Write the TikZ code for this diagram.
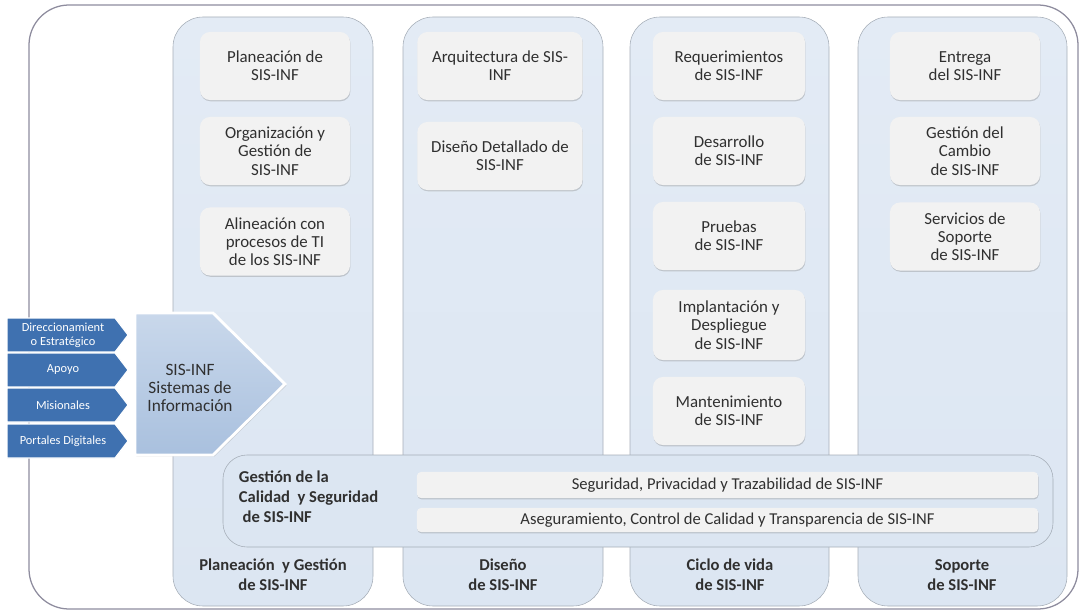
\documentclass[tikz,border=0pt]{standalone}
\usepackage{fontspec}
\setmainfont{Carlito}
\usetikzlibrary{shadows}

\definecolor{colfill}{HTML}{DCE6F2}
\definecolor{coltop}{HTML}{E3EBF5}
\definecolor{colline}{HTML}{A6AEB8}
\definecolor{boxfill}{HTML}{F2F2F2}
\definecolor{tagblue}{HTML}{3F71B0}
\definecolor{arrowtop}{HTML}{C9D8EB}
\definecolor{arrowbot}{HTML}{A9C0DE}
\definecolor{framegray}{HTML}{8E8C9E}
\definecolor{txt}{HTML}{303030}

\tikzset{
  column/.style = {draw = colline, top color = coltop, bottom color = colfill, rounded corners = 0.75cm},
  itembox/.style = {fill = boxfill, rounded corners = 0.25cm, minimum height = 1.7cm, align = center,
                    text = txt, font = \fontsize{12}{13}\selectfont,
                    drop shadow = {shadow xshift = 0.3pt, shadow yshift = -0.9pt, opacity = 0.35, fill = gray}},
  bar/.style = {fill = boxfill, rounded corners = 0.1cm, minimum width = 15.525cm, text = txt,
                font = \fontsize{11.8}{13}\selectfont,
                drop shadow = {shadow xshift = 0.3pt, shadow yshift = -0.9pt, opacity = 0.35, fill = gray}},
  collabel/.style = {align = center, text = txt, font = \fontsize{11.8}{14.2}\selectfont\bfseries},
  tag/.style = {fill = tagblue, draw = white, line width = 0.8pt},
  tagtext/.style = {align = center, text = white, font = \fontsize{8.8}{10}\selectfont}
}

\begin{document}
\begin{tikzpicture}[x = 0.025cm, y = -0.025cm]
    \useasboundingbox (0, 0) rectangle (1081, 611);

    % outer frame
    \draw[framegray, line width = 0.9pt, rounded corners = 1cm] (29, 5) rectangle (1078, 609);

    % columns
    \draw[column] (173, 17) rectangle (373, 606);
    \draw[column] (403, 17) rectangle (603, 606);
    \draw[column] (630, 17) rectangle (829, 606);
    \draw[column] (858, 17) rectangle (1067, 606);

    % planeacion y gestion
    \node[itembox, minimum width = 3.75cm] (plan) at (275, 66) {Planeación de\\SIS-INF};
    \node[itembox, minimum width = 3.75cm] (orga) at (275, 151) {Organización y\\Gestión de\\SIS-INF};
    \node[itembox, minimum width = 3.75cm] (alin) at (275, 241.5) {Alineación con\\procesos de TI\\de los SIS-INF};

    % diseno
    \node[itembox, minimum width = 4.125cm] (arqu) at (500, 66) {Arquitectura de SIS-\\INF};
    \node[itembox, minimum width = 4.125cm] (deta) at (500, 156) {Diseño Detallado de\\SIS-INF};

    % ciclo de vida
    \node[itembox, minimum width = 3.8cm] (requ) at (729, 66) {Requerimientos\\de SIS-INF};
    \node[itembox, minimum width = 3.8cm] (desa) at (729, 151) {Desarrollo\\de SIS-INF};
    \node[itembox, minimum width = 3.8cm] (prue) at (729, 236) {Pruebas\\de SIS-INF};
    \node[itembox, minimum width = 3.8cm, minimum height = 1.75cm] (impl) at (729, 325) {Implantación y\\Despliegue\\de SIS-INF};
    \node[itembox, minimum width = 3.8cm] (mant) at (729, 411) {Mantenimiento\\de SIS-INF};

    % soporte
    \node[itembox, minimum width = 3.75cm] (entr) at (965, 66) {Entrega\\del SIS-INF};
    \node[itembox, minimum width = 3.75cm] (camb) at (965, 151) {Gestión del\\Cambio\\de SIS-INF};
    \node[itembox, minimum width = 3.75cm] (serv) at (965, 236.5) {Servicios de\\Soporte\\de SIS-INF};

    % calidad y seguridad
    \draw[draw = colline, fill = colfill, rounded corners = 0.6cm] (223, 455) rectangle (1053, 547);
    \node[collabel, align = left, anchor = west] (cali) at (234, 497) {Gestión de la\\Calidad\ \ y Seguridad\\\ de SIS-INF};
    \node[bar, minimum height = 0.65cm] (segu) at (727.5, 485) {Seguridad, Privacidad y Trazabilidad de SIS-INF};
    \node[bar, minimum height = 0.6cm] (aseg) at (727.5, 520) {Aseguramiento, Control de Calidad y Transparencia de SIS-INF};

    % column titles
    \node[collabel] (tplan) at (273, 575) {Planeación\ \ y Gestión\\de SIS-INF};
    \node[collabel] (tdise) at (503, 575) {Diseño\\de SIS-INF};
    \node[collabel] (tcicl) at (730, 575) {Ciclo de vida\\de SIS-INF};
    \node[collabel] (tsopo) at (962, 575) {Soporte\\de SIS-INF};

    % sistemas de informacion
    \draw[line width = 2pt, draw = white, top color = arrowtop, bottom color = arrowbot,
          drop shadow = {shadow xshift = 1pt, shadow yshift = -1pt, opacity = 0.3, fill = gray}]
          (135, 313) -- (213, 313) -- (285, 384) -- (213, 455) -- (135, 455) -- cycle;
    \node[align = center, text = txt, font = \fontsize{12.3}{12.6}\selectfont] (sist) at (190, 388) {SIS-INF\\Sistemas de\\Información};

    \draw[tag] (7, 318) -- (115, 318) -- (128, 335) -- (115, 352) -- (7, 352) -- cycle;
    \node[tagtext] (dire) at (63, 335) {Direccionamient\\o Estratégico};
    \draw[tag] (7, 353) -- (115, 353) -- (128, 370) -- (115, 387) -- (7, 387) -- cycle;
    \node[tagtext] (apoy) at (63, 370) {Apoyo};
    \draw[tag] (7, 388) -- (115, 388) -- (128, 405) -- (115, 422) -- (7, 422) -- cycle;
    \node[tagtext] (misi) at (63, 405) {Misionales};
    \draw[tag] (7, 424) -- (115, 424) -- (128, 441) -- (115, 458) -- (7, 458) -- cycle;
    \node[tagtext] (port) at (63, 441) {Portales Digitales};
\end{tikzpicture}
\end{document}
